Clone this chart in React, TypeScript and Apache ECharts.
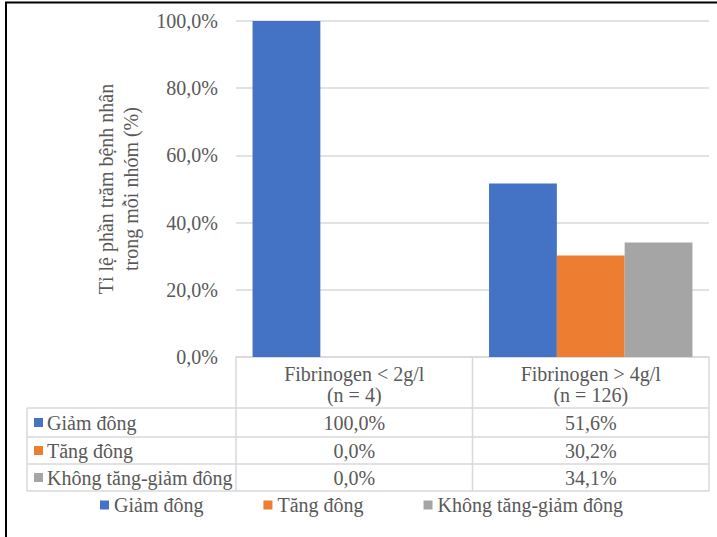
import React, { useEffect, useRef } from "react";
import * as echarts from "echarts";

const categories = ["Fibrinogen < 2g/l\n(n = 4)", "Fibrinogen > 4g/l\n(n = 126)"];
const seriesNames = ["Giảm đông", "Tăng đông", "Không tăng-giảm đông"];
const giamDong = [100.0, 51.6];
const tangDong = [0.0, 30.2];
const khongTangGiam = [0.0, 34.1];
const colors = ["#4472C4", "#ED7D31", "#A5A5A5"];
const yTicks = [0, 20, 40, 60, 80, 100];

const FONT = "'Liberation Serif', 'Times New Roman', serif";
const FS = 20;
const TEXT = "#595959";
const LINE = "#D9D9D9";

const fmt = (v: number) => v.toFixed(1).replace(".", ",") + "%";

export default function App() {
  const ref = useRef<HTMLDivElement>(null);

  useEffect(() => {
    if (!ref.current) return;
    const chart = echarts.init(ref.current, undefined, { renderer: "svg" });
    const W = 717;
    const plotLeft = 236;
    const plotRight = 709;
    const plotTop = 21;
    const plotBottom = 357;
    const tableLeft = 27;
    const rowLines = [408, 437, 464, 491];
    const colEdges = [plotLeft, (plotLeft + plotRight) / 2, plotRight];
    const values = [giamDong, tangDong, khongTangGiam];

    const graphics: any[] = [];
    // table grid lines
    rowLines.forEach((y) => {
      graphics.push({
        type: "line",
        shape: { x1: tableLeft, y1: y, x2: plotRight, y2: y },
        style: { stroke: LINE, lineWidth: 1.5 },
        silent: true,
      });
    });
    colEdges.forEach((x) => {
      graphics.push({
        type: "line",
        shape: { x1: x, y1: plotBottom, x2: x, y2: rowLines[3] },
        style: { stroke: LINE, lineWidth: 1.5 },
        silent: true,
      });
    });
    graphics.push({
      type: "line",
      shape: { x1: tableLeft, y1: rowLines[0], x2: tableLeft, y2: rowLines[3] },
      style: { stroke: LINE, lineWidth: 1.5 },
      silent: true,
    });
    // row labels with colour keys and cell values
    seriesNames.forEach((name, i) => {
      const yMid = (rowLines[i] + rowLines[i + 1]) / 2;
      graphics.push({
        type: "rect",
        shape: { x: 34, y: yMid - 4.5, width: 9, height: 9 },
        style: { fill: colors[i] },
        silent: true,
      });
      graphics.push({
        type: "text",
        x: 47,
        y: yMid,
        style: {
          text: name,
          fill: TEXT,
          font: `${FS}px ${FONT}`,
          verticalAlign: "middle",
          align: "left",
        },
        silent: true,
      });
      values[i].forEach((v, j) => {
        graphics.push({
          type: "text",
          x: (colEdges[j] + colEdges[j + 1]) / 2,
          y: yMid,
          style: {
            text: fmt(v),
            fill: TEXT,
            font: `${FS}px ${FONT}`,
            verticalAlign: "middle",
            align: "center",
          },
          silent: true,
        });
      });
    });
    // page frame
    graphics.push({
      type: "line",
      shape: { x1: 5, y1: 2.5, x2: W, y2: 2.5 },
      style: { stroke: "#000", lineWidth: 2 },
      silent: true,
    });
    graphics.push({
      type: "line",
      shape: { x1: 6, y1: 2, x2: 6, y2: 537 },
      style: { stroke: "#000", lineWidth: 2 },
      silent: true,
    });

    chart.setOption({
      animation: false,
      backgroundColor: "#fff",
      textStyle: { fontFamily: FONT },
      grid: {
        left: plotLeft,
        right: W - plotRight,
        top: plotTop,
        bottom: 537 - plotBottom,
        containLabel: false,
      },
      legend: {
        left: 100,
        top: 495,
        padding: 0,
        itemWidth: 9,
        itemHeight: 9,
        itemGap: 60,
        icon: "rect",
        textStyle: { color: TEXT, fontSize: FS, fontFamily: FONT },
        data: seriesNames,
      },
      xAxis: {
        type: "category",
        data: categories,
        axisLine: { show: true, lineStyle: { color: LINE, width: 1.5 } },
        axisTick: { show: false },
        axisLabel: {
          color: TEXT,
          fontSize: FS,
          fontFamily: FONT,
          lineHeight: 21,
          margin: 6,
          align: "center",
        },
      },
      yAxis: {
        type: "value",
        min: 0,
        max: 100,
        interval: 20,
        name: "Tỉ lệ phần trăm bệnh nhân\ntrong mỗi nhóm (%)",
        nameLocation: "middle",
        nameGap: 93,
        nameRotate: 90,
        nameTextStyle: {
          color: TEXT,
          fontSize: FS,
          fontFamily: FONT,
          lineHeight: 25,
        },
        axisLine: { show: false },
        axisTick: { show: false },
        splitLine: { lineStyle: { color: LINE, width: 1.5 } },
        axisLabel: {
          color: TEXT,
          fontSize: FS,
          fontFamily: FONT,
          margin: 18,
          formatter: (v: number) => (yTicks.includes(v) ? fmt(v) : ""),
        },
      },
      series: seriesNames.map((name, i) => ({
        name,
        type: "bar",
        data: values[i],
        barGap: "0%",
        barCategoryGap: "14%",
        itemStyle: { color: colors[i] },
      })),
      graphic: graphics,
    });

    return () => chart.dispose();
  }, []);

  return (
    <div
      ref={ref}
      style={{ position: "fixed", left: 0, top: 0, width: 717, height: 537 }}
    />
  );
}
